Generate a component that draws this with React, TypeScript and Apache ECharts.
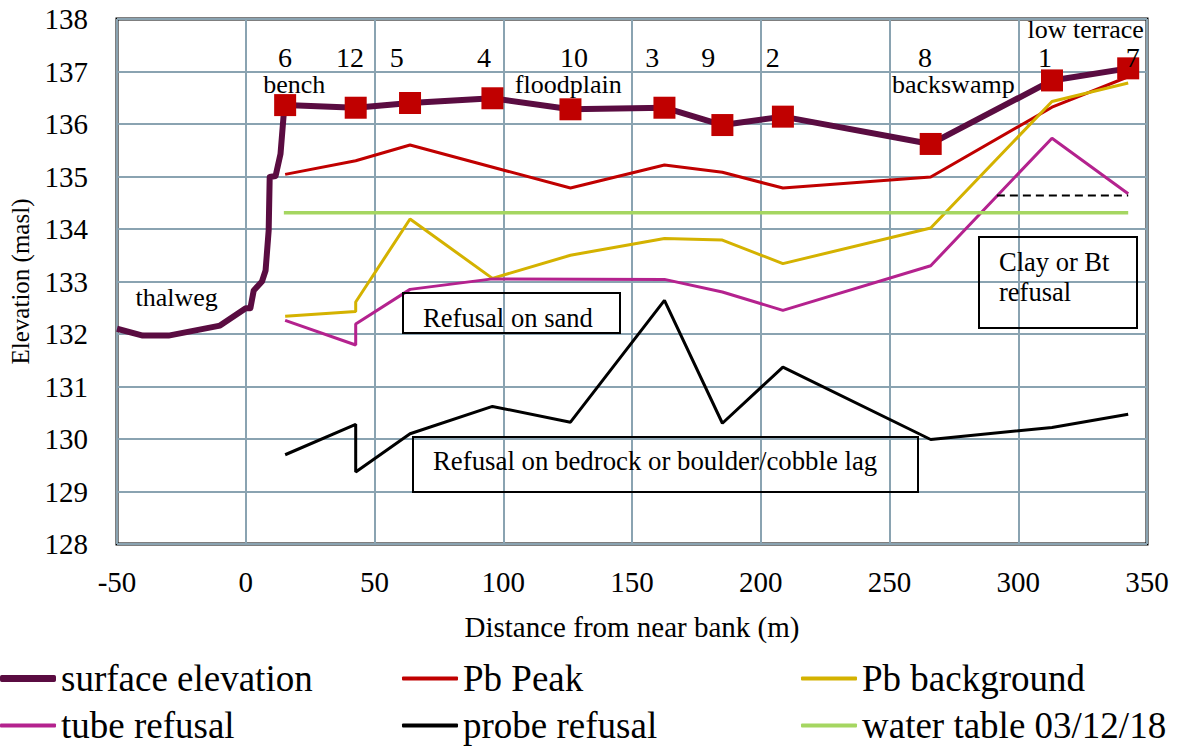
import React, { useEffect, useRef } from "react";
import * as echarts from "echarts";

// ---- data ----
const thalwegX = [-50, -40, -30, -10, 0, 1.8, 3.1, 6.3, 7.7, 8.9, 9.3, 11.6, 13.5, 14.8];
const thalwegElev = [132.1, 131.97, 131.97, 132.16, 132.49, 132.49, 132.83, 133.0, 133.21, 133.97, 134.99, 135.01, 135.43, 136.22];

const siteIds = ["6", "12", "5", "4", "10", "3", "9", "2", "8", "1", "7"];
const siteX = [15.3, 42.7, 63.8, 95.8, 126.1, 162.6, 185.1, 208.6, 266.0, 313.1, 342.7];
const siteElev = [136.36, 136.31, 136.4, 136.49, 136.28, 136.31, 135.98, 136.14, 135.62, 136.83, 137.06];

const pbPeakX = [15.3, 42.7, 63.8, 126.1, 162.6, 185.1, 208.6, 266.0, 313.1, 342.7];
const pbPeakY = [135.04, 135.3, 135.6, 134.78, 135.22, 135.08, 134.78, 134.99, 136.32, 136.9];

const pbBackX = [15.3, 42.7, 42.7, 63.8, 95.8, 126.1, 162.6, 185.1, 208.6, 266.0, 313.1, 342.7];
const pbBackY = [132.34, 132.43, 132.61, 134.19, 133.06, 133.5, 133.82, 133.79, 133.34, 134.02, 136.43, 136.78];

const tubeX = [15.3, 42.7, 42.7, 63.8, 95.8, 162.6, 185.1, 208.6, 266.0, 313.1, 342.7];
const tubeY = [132.26, 131.79, 132.19, 132.85, 133.05, 133.04, 132.8, 132.45, 133.3, 135.73, 134.67];

const probeX = [15.3, 42.7, 42.7, 63.8, 95.8, 126.1, 162.6, 185.1, 208.6, 266.0, 313.1, 342.7];
const probeY = [129.7, 130.28, 129.37, 130.1, 130.62, 130.32, 132.64, 130.3, 131.37, 129.99, 130.22, 130.47];

const waterX = [14.8, 342.7];
const waterY = [134.31, 134.31];

const clayX = [291.7, 342.7];
const clayY = [134.64, 134.64];

const xTicks = { min: -50, max: 350, interval: 50 };
const yTicks = { min: 128, max: 138, interval: 1 };

const FONT = "Liberation Serif";

const COLORS = {
  surface: "#5A0C41",
  marker: "#C00000",
  peak: "#C00000",
  back: "#D4B200",
  tube: "#B4228E",
  probe: "#000000",
  water: "#A5D661",
  grid: "#8AA3B1",
};

const zip = (xs: number[], ys: number[]) => xs.map((x, i) => [x, ys[i]]);

export default function App() {
  const ref = useRef<HTMLDivElement>(null);

  useEffect(() => {
    document.body.style.margin = "0";
    if (!ref.current) return;
    const chart = echarts.init(ref.current, undefined, { renderer: "svg" });

    const surfaceData: any[] = [
      ...thalwegX.map((x, i) => ({ value: [x, thalwegElev[i]], symbol: "none" })),
      ...siteX.map((x, i) => ({ value: [x, siteElev[i]], symbol: "rect" })),
    ];

    const legendItems = [
      { name: "surface elevation", color: COLORS.surface, left: 0, top: 660, h: 7 },
      { name: "Pb Peak", color: COLORS.peak, left: 402, top: 660, h: 4 },
      { name: "Pb background", color: COLORS.back, left: 801, top: 660, h: 4 },
      { name: "tube refusal", color: COLORS.tube, left: 0, top: 707, h: 4 },
      { name: "probe refusal", color: COLORS.probe, left: 402, top: 707, h: 4 },
      { name: "water table 03/12/18", color: COLORS.water, left: 801, top: 707, h: 4 },
    ];

    const txt = (text: string, x: number, y: number, size: number, align = "center") => ({
      type: "text",
      x,
      y,
      style: {
        text,
        fill: "#000",
        fontFamily: FONT,
        fontSize: size,
        textAlign: align,
        textVerticalAlign: "middle",
      },
      z: 100,
    });
    const box = (x: number, y: number, w: number, h: number) => ({
      type: "rect",
      shape: { x, y, width: w, height: h },
      style: { fill: "none", stroke: "#000", lineWidth: 2 },
      z: 99,
    });

    const sitePx = [285, 350, 396.7, 484, 574, 652.3, 708.3, 772.7, 925, 1045, 1132.7];

    const option: any = {
      animation: false,
      backgroundColor: "#fff",
      textStyle: { fontFamily: FONT },
      grid: {
        left: 117,
        top: 19,
        right: 33,
        bottom: 205,
        show: true,
        borderColor: "#000",
        borderWidth: 3,
        containLabel: false,
      },
      xAxis: {
        type: "value",
        min: xTicks.min,
        max: xTicks.max,
        interval: xTicks.interval,
        axisLine: { show: false },
        axisTick: { show: false },
        splitLine: { show: true, lineStyle: { color: COLORS.grid, width: 2 } },
        axisLabel: { fontFamily: FONT, fontSize: 29, color: "#000", margin: 23 },
        name: "Distance from near bank (m)",
        nameLocation: "middle",
        nameGap: 68,
        nameTextStyle: { fontFamily: FONT, fontSize: 29, color: "#000" },
      },
      yAxis: {
        type: "value",
        min: yTicks.min,
        max: yTicks.max,
        interval: yTicks.interval,
        axisLine: { show: false },
        axisTick: { show: false },
        splitLine: { show: true, lineStyle: { color: COLORS.grid, width: 2 } },
        axisLabel: { fontFamily: FONT, fontSize: 29, color: "#000", margin: 29 },
        name: "Elevation (masl)",
        nameLocation: "middle",
        nameRotate: 90,
        nameGap: 84,
        nameTextStyle: { fontFamily: FONT, fontSize: 25, color: "#000" },
      },
      legend: legendItems.map((l) => ({
        show: true,
        left: l.left,
        top: l.top,
        padding: 0,
        itemWidth: 56,
        itemHeight: l.h,
        icon: "roundRect",
        selectedMode: false,
        data: [{ name: l.name, itemStyle: { color: l.color } }],
        textStyle: { fontFamily: FONT, fontSize: 37, color: "#000" },
      })),
      series: [
        {
          name: "Pb Peak",
          type: "line",
          data: zip(pbPeakX, pbPeakY),
          showSymbol: false,
          lineStyle: { color: COLORS.peak, width: 3 },
          itemStyle: { color: COLORS.peak },
        },
        {
          name: "Pb background",
          type: "line",
          data: zip(pbBackX, pbBackY),
          showSymbol: false,
          lineStyle: { color: COLORS.back, width: 3 },
          itemStyle: { color: COLORS.back },
        },
        {
          name: "tube refusal",
          type: "line",
          data: zip(tubeX, tubeY),
          showSymbol: false,
          lineStyle: { color: COLORS.tube, width: 3 },
          itemStyle: { color: COLORS.tube },
        },
        {
          name: "probe refusal",
          type: "line",
          data: zip(probeX, probeY),
          showSymbol: false,
          lineStyle: { color: COLORS.probe, width: 3 },
          itemStyle: { color: COLORS.probe },
        },
        {
          name: "water table 03/12/18",
          type: "line",
          data: zip(waterX, waterY),
          showSymbol: false,
          lineStyle: { color: COLORS.water, width: 3.5 },
          itemStyle: { color: COLORS.water },
        },
        {
          name: "clay refusal level",
          type: "line",
          data: zip(clayX, clayY),
          showSymbol: false,
          lineStyle: { color: "#000", width: 2, type: [8, 5] },
          itemStyle: { color: "#000" },
        },
        {
          name: "surface elevation",
          type: "line",
          data: surfaceData,
          symbolSize: 22,
          lineStyle: { color: COLORS.surface, width: 6, join: "round" },
          itemStyle: { color: COLORS.marker },
          z: 5,
        },
      ],
      graphic: [
        ...siteIds.map((id, i) => txt(id, sitePx[i], 57, 28)),
        txt("bench", 294.3, 84.5, 26),
        txt("floodplain", 568.3, 84, 26),
        txt("backswamp", 953.3, 84, 26),
        txt("low terrace", 1085.7, 29.5, 26),
        txt("thalweg", 176.7, 297.4, 26),
        box(403, 293, 217, 40),
        txt("Refusal on sand", 423, 318.4, 26.6, "left"),
        box(413, 437, 505, 55),
        txt("Refusal on bedrock or boulder/cobble lag", 433, 460.7, 26.8, "left"),
        box(979, 237, 158, 91),
        txt("Clay or Bt", 999, 261.7, 26.5, "left"),
        txt("refusal", 999, 292.3, 26.5, "left"),
      ],
    };

    chart.setOption(option);
    return () => chart.dispose();
  }, []);

  return <div ref={ref} style={{ width: 1180, height: 749 }} />;
}
